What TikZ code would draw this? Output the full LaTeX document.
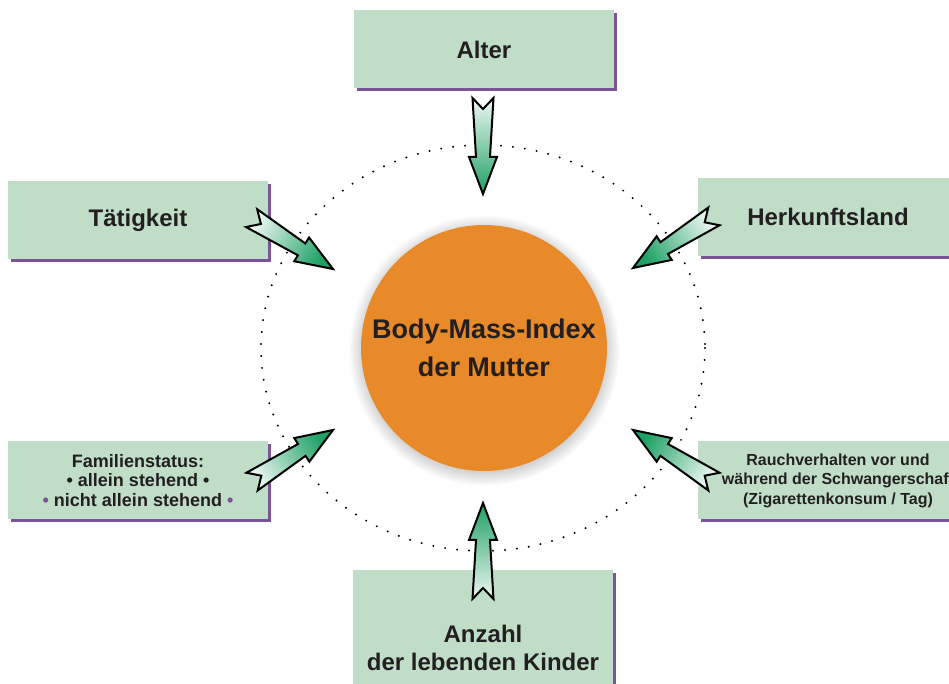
\documentclass[tikz,border=0pt]{standalone}
\usepackage{fontspec}
\setmainfont{Liberation Sans}
\usetikzlibrary{shadows}

\definecolor{boxgreen}{RGB}{192,221,200}
\definecolor{boxshadow}{RGB}{123,83,150}
\definecolor{bmiorange}{RGB}{232,137,42}
\definecolor{arrowgreen}{RGB}{30,160,100}
\definecolor{labeltext}{RGB}{35,31,32}

\tikzset{
  factorbox/.style={rectangle, fill=boxgreen, minimum width=130pt, minimum height=39pt,
    inner sep=0pt, align=center, text=labeltext,
    font=\bfseries\fontsize{12}{14}\selectfont,
    general shadow={shadow xshift=1.5pt, shadow yshift=-1.5pt, fill=boxshadow}},
  smallbox/.style={factorbox, font=\bfseries\fontsize{9}{9.8}\selectfont},
  bmicircle/.style={circle, fill=bmiorange, minimum size=123pt, inner sep=0pt,
    align=center, text=labeltext, font=\bfseries\fontsize{13.5}{19}\selectfont,
    circular drop shadow={shadow xshift=0pt, shadow yshift=-1pt, shadow scale=1.1, opacity=0.5}},
  orbit/.style={line width=1.1pt, line cap=round, dash pattern=on 0pt off 6pt},
  arrowbody/.style={draw=black, line width=1pt, top color=arrowgreen, bottom color=white!92!arrowgreen}
}

% block arrow from tail coordinate #1 to tip coordinate #2
\newcommand{\factorarrow}[2]{%
  \pgfmathanglebetweenpoints{\pgfpointanchor{#1}{center}}{\pgfpointanchor{#2}{center}}%
  \let\arrowangle\pgfmathresult
  \pgfmathsetmacro\shadeangle{\arrowangle-90}%
  \begin{scope}[shift={(#2)}, rotate=\arrowangle]
    \shade[arrowbody, shading angle=\shadeangle] (0,0) -- (-37,14) -- (-37,7) -- (-96,10.5) -- (-85,0)
      -- (-96,-10.5) -- (-37,-7) -- (-37,-14) -- cycle;
  \end{scope}}

\begin{document}
\begin{tikzpicture}[x=0.5pt, y=-0.5pt]
    \useasboundingbox (0,0) rectangle (949,684);
    \clip (0,0) rectangle (949,684);

    % orbit and centre
    \draw [orbit] (483,348) ellipse [x radius=222, y radius=203];
    \node [bmicircle] (bmi) at (484,348) {Body-Mass-Index\\der Mutter};

    % factors
    \node [factorbox] (alter) at (484,49.5) {Alter};
    \node [factorbox] (taetigkeit) at (138,220.5) {T\"atigkeit};
    \node [factorbox] (herkunft) at (828,217) {Herkunftsland};
    \node [smallbox] (familie) at (138,480.5) {Familienstatus:\\%
        \textbullet{} allein stehend \textbullet\\%
        {\color{boxshadow}\textbullet} nicht allein stehend {\color{boxshadow}\textbullet}};
    \node [smallbox, minimum width=140pt, font=\bfseries\fontsize{8}{9.8}\selectfont] (rauch) at (838,480.5)
        {Rauchverhalten vor und\\w\"ahrend der Schwangerschaft\\(Zigarettenkonsum / Tag)};
    \node [factorbox, minimum height=78pt] (anzahl) at (483,648) {Anzahl\\der lebenden Kinder};

    % arrow ends
    \coordinate (alter-tail) at (483,98);
    \coordinate (alter-tip) at (483,194);
    \coordinate (taetigkeit-tail) at (253,219);
    \coordinate (taetigkeit-tip) at (333,269);
    \coordinate (herkunft-tail) at (713,217);
    \coordinate (herkunft-tip) at (633,268);
    \coordinate (familie-tail) at (253,481);
    \coordinate (familie-tip) at (333,430);
    \coordinate (rauch-tail) at (713,481);
    \coordinate (rauch-tip) at (633,430);
    \coordinate (anzahl-tail) at (483,600);
    \coordinate (anzahl-tip) at (483,503);

    \factorarrow{alter-tail}{alter-tip}
    \factorarrow{taetigkeit-tail}{taetigkeit-tip}
    \factorarrow{herkunft-tail}{herkunft-tip}
    \factorarrow{familie-tail}{familie-tip}
    \factorarrow{rauch-tail}{rauch-tip}
    \factorarrow{anzahl-tail}{anzahl-tip}
\end{tikzpicture}
\end{document}
